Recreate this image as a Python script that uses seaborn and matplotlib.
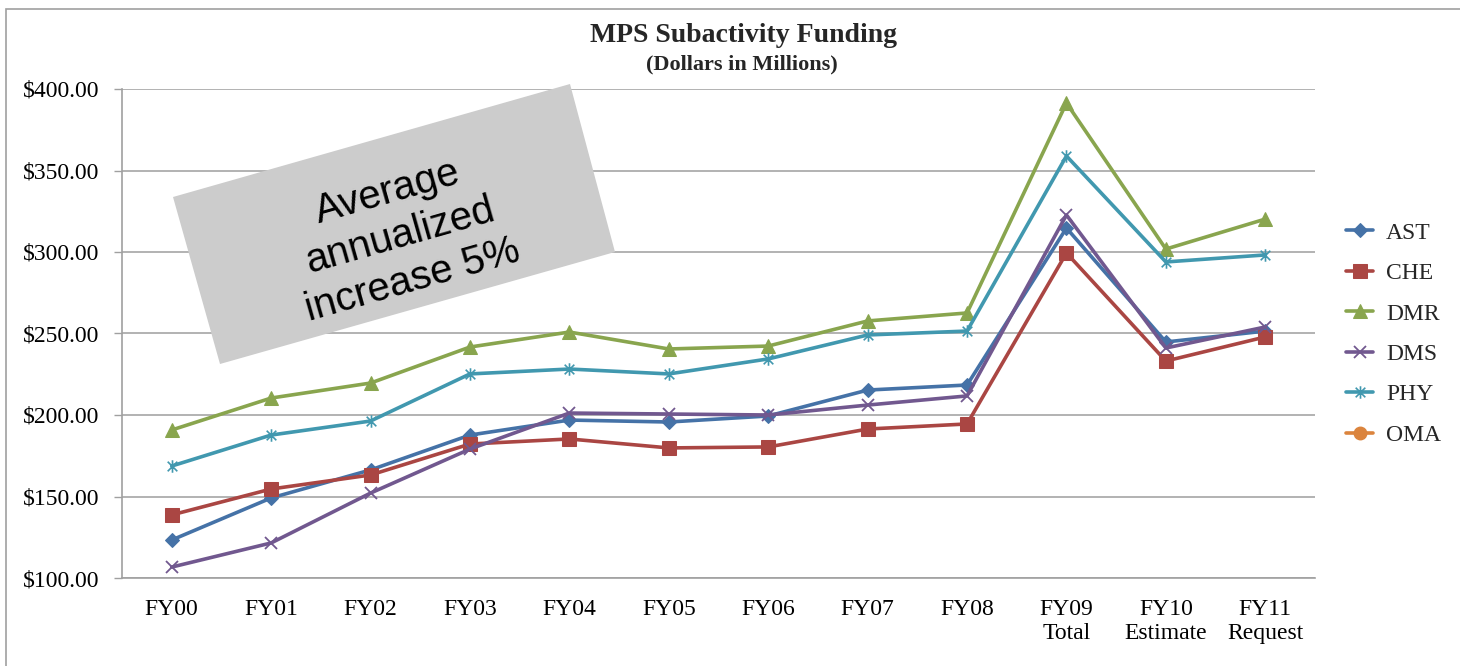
import numpy as np
import pandas as pd
import matplotlib
matplotlib.use("Agg")
import matplotlib.pyplot as plt
import seaborn as sns
from matplotlib.path import Path
from matplotlib.patches import Polygon, Rectangle

categories = ["FY00", "FY01", "FY02", "FY03", "FY04", "FY05", "FY06", "FY07",
              "FY08", "FY09\nTotal", "FY10\nEstimate", "FY11\nRequest"]
AST = [123.3, 149.1, 166.3, 187.7, 196.9, 195.7, 199.4, 215.3, 218.4, 314.7, 244.8, 251.5]
CHE = [138.7, 154.6, 163.2, 182.2, 185.3, 179.8, 180.4, 191.4, 194.5, 299.4, 233.1, 247.9]
DMR = [190.8, 210.4, 219.6, 241.7, 250.9, 240.5, 242.3, 257.7, 262.6, 391.4, 301.8, 320.2]
DMS = [106.7, 121.5, 152.1, 179.1, 201.2, 200.6, 200.0, 206.1, 211.7, 322.7, 241.1, 254.0]
PHY = [168.7, 187.7, 196.3, 225.2, 228.2, 225.2, 234.4, 249.1, 251.5, 358.9, 293.9, 298.2]
OMA = [np.nan] * 12
yticks = [100, 150, 200, 250, 300, 350, 400]

sns.set_theme(style="white")
plt.rcParams['font.family'] = ['Liberation Serif', 'DejaVu Serif']

fig = plt.figure(figsize=(14.6, 6.66), dpi=100)
W, H = 1460, 666
ax = fig.add_axes([122 / W, 1 - 578 / H, (1315 - 122) / W, (578 - 89) / H])

# asterisk marker (x plus vertical bar)
star = Path([(-1, -1), (1, 1), (-1, 1), (1, -1), (0, -1.3), (0, 1.3)],
            [Path.MOVETO, Path.LINETO, Path.MOVETO, Path.LINETO, Path.MOVETO, Path.LINETO])

x = np.arange(len(categories))
series = [
    ("AST", AST, "#4572A7", dict(marker="D", markersize=7)),
    ("CHE", CHE, "#AA4643", dict(marker="s", markersize=10)),
    ("DMR", DMR, "#89A54E", dict(marker="^", markersize=10)),
    ("DMS", DMS, "#71588F", dict(marker="x", markersize=9, markeredgewidth=1.3)),
    ("PHY", PHY, "#4198AF", dict(marker=star, markersize=9, markeredgewidth=1.2)),
]
for name, vals, col, mk in series:
    sns.lineplot(x=x, y=vals, ax=ax, color=col, linewidth=2.6, label=name,
                 markeredgecolor=col, markerfacecolor=col, **mk)
ax.plot(x, OMA, color="#DB843D", linewidth=2.6, marker="o", markersize=9, label="OMA")

ax.set_xlim(-0.5, len(categories) - 0.5)
ax.set_ylim(100, 400)
ax.set_yticks(yticks)
ax.set_yticklabels([f"${v:.2f}" for v in yticks])
ax.set_xticks(x)
ax.set_xticklabels(categories, linespacing=1.2)
ax.set_xticks(np.arange(-0.5, len(categories), 1.0), minor=True)
ax.tick_params(axis="x", which="major", length=0, pad=15, labelsize=17, colors="black")
ax.tick_params(axis="x", which="minor", length=6, width=1, color="#A0A0A0", direction="out")
ax.tick_params(axis="y", which="major", length=6, width=1, color="#A0A0A0", labelsize=17,
               pad=10, colors="black", left=True)
for lab in ax.get_yticklabels() + ax.get_xticklabels():
    lab.set_color("black")
ax.grid(axis="y", color="#A6A6A6", linewidth=1.2)
ax.grid(axis="x", visible=False)
ax.set_axisbelow(True)
for s in ["top", "right"]:
    ax.spines[s].set_visible(False)
for s in ["left", "bottom"]:
    ax.spines[s].set_color("#A0A0A0")
    ax.spines[s].set_linewidth(1.2)
ax.set_xlabel("")
ax.set_ylabel("")

# legend
hs, ls = ax.get_legend_handles_labels()
ax.legend(hs, ls, loc="center left", bbox_to_anchor=(1346 / W, 1 - 334 / H),
          bbox_transform=fig.transFigure, frameon=False, fontsize=17,
          labelspacing=0.8, handlelength=1.15, handletextpad=0.55, borderaxespad=0,
          borderpad=0)

# titles
fig.text(744 / W, 1 - 35 / H, "MPS Subactivity Funding", ha="center", va="center",
         fontsize=20, fontweight="bold")
fig.text(742 / W, 1 - 64 / H, "(Dollars in Millions)", ha="center", va="center",
         fontsize=16, fontweight="bold")

# rotated gray annotation box
corners = [(173, 197), (570, 84), (615, 252), (220, 364)]
poly = Polygon([(cx / W, 1 - cy / H) for cx, cy in corners], closed=True,
               transform=fig.transFigure, facecolor="#CCCCCC", edgecolor="none", zorder=5)
fig.add_artist(poly)
fig.text(400 / W, 1 - 236 / H, "Average\nannualized\nincrease 5%", ha="center", va="center",
         rotation=15.9, rotation_mode="anchor", fontsize=29, family="Liberation Sans",
         linespacing=1.25, zorder=6, color="black")

# outer chart border
fig.add_artist(Rectangle((6 / W, -0.02), 1.0, 1 - 9 / H + 0.02, transform=fig.transFigure,
                         fill=False, edgecolor="#A0A0A0", linewidth=1.2))

fig.savefig("out.png", dpi=100)
